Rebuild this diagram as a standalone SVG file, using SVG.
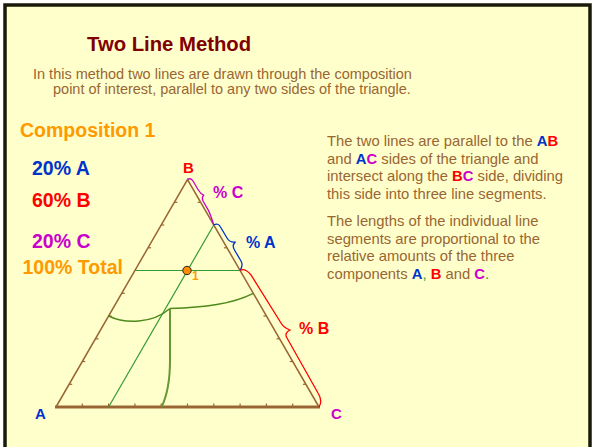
<svg xmlns="http://www.w3.org/2000/svg" width="592" height="447" viewBox="0 0 592 447">
<defs>
<style>
text{font-family:"Liberation Sans",Arial,sans-serif}
.b{font-weight:bold}
.body{font-size:14.5px;fill:#996633}
.side{font-size:14.8px;fill:#996633}
.big{font-size:19.5px;font-weight:bold}
.lab{font-size:16px;font-weight:bold}
.blue{fill:#0033cc}
.red{fill:#ff0000}
.mag{fill:#cc00cc}
.org{fill:#ff9900}
.grn{fill:#339933}
.tri{fill:none;stroke:#996633;stroke-width:1.5}
.tick{stroke:#996633;stroke-width:1.2}
.gline{fill:none;stroke:#339933;stroke-width:1.2}
.dline{fill:none;stroke:#4d8a1a;stroke-width:1.5}
.brace{fill:none;stroke-width:1.3}
</style>
</defs>
<rect x="0" y="0" width="592" height="447" fill="#ffffff"/>
<rect x="5" y="5" width="585" height="460" fill="#ffffcc" stroke="#1a1a0a" stroke-width="3.5"/>

<g id="title">
<text x="87" y="51" class="b" font-size="20.3" fill="#800000">Two Line Method</text>
<text x="33" y="79" class="body">In this method two lines are drawn through the composition</text>
<text x="53" y="94" class="body">point of interest, parallel to any two sides of the triangle.</text>
</g>

<g id="composition">
<text x="20" y="137" class="big org">Composition 1</text>
<text x="32" y="175" class="big blue">20% A</text>
<text x="32" y="207" class="big red">60% B</text>
<text x="32" y="247.5" class="big mag">20% C</text>
<text x="22.5" y="274" class="big org">100% Total</text>
</g>

<g id="explanation" class="side">
<text x="327" y="146">The two lines are parallel to the <tspan class="b blue">A</tspan><tspan class="b red">B</tspan></text>
<text x="327" y="163.5">and <tspan class="b blue">A</tspan><tspan class="b mag">C</tspan> sides of the triangle and</text>
<text x="327" y="181">intersect along the <tspan class="b red">B</tspan><tspan class="b mag">C</tspan> side, dividing</text>
<text x="327" y="198.5">this side into three line segments.</text>
<text x="327" y="226">The lengths of the individual line</text>
<text x="327" y="243.5">segments are proportional to the</text>
<text x="327" y="261">relative amounts of the three</text>
<text x="327" y="278.5">components <tspan class="b blue">A</tspan><tspan class="grn">,</tspan> <tspan class="b red">B</tspan> and <tspan class="b mag">C</tspan><tspan class="grn">.</tspan></text>
</g>

<g id="triangle">
<path class="tri" d="M56,407 L187.5,179.5 L319,407"/>
<line x1="55" y1="407" x2="320" y2="407" stroke="#996633" stroke-width="2.8"/>
<g class="tick">
<line x1="82.3" y1="407" x2="82.3" y2="403.5"/>
<line x1="108.6" y1="407" x2="108.6" y2="403.5"/>
<line x1="134.9" y1="407" x2="134.9" y2="403.5"/>
<line x1="161.2" y1="407" x2="161.2" y2="403.5"/>
<line x1="187.5" y1="407" x2="187.5" y2="403.5"/>
<line x1="213.8" y1="407" x2="213.8" y2="403.5"/>
<line x1="240.1" y1="407" x2="240.1" y2="403.5"/>
<line x1="266.4" y1="407" x2="266.4" y2="403.5"/>
<line x1="292.7" y1="407" x2="292.7" y2="403.5"/>
<line x1="69.2" y1="384.3" x2="72.2" y2="384.3"/>
<line x1="82.3" y1="361.5" x2="85.3" y2="361.5"/>
<line x1="95.5" y1="338.8" x2="98.5" y2="338.8"/>
<line x1="108.6" y1="316" x2="111.6" y2="316"/>
<line x1="121.8" y1="293.3" x2="124.8" y2="293.3"/>
<line x1="148.1" y1="247.8" x2="151.1" y2="247.8"/>
<line x1="161.2" y1="225" x2="164.2" y2="225"/>
<line x1="174.4" y1="202.3" x2="177.4" y2="202.3"/>
<line x1="305.9" y1="384.3" x2="302.9" y2="384.3"/>
<line x1="292.7" y1="361.5" x2="289.7" y2="361.5"/>
<line x1="279.6" y1="338.8" x2="276.6" y2="338.8"/>
<line x1="266.4" y1="316" x2="263.4" y2="316"/>
<line x1="226.9" y1="247.8" x2="223.9" y2="247.8"/>
<line x1="200.6" y1="202.3" x2="197.6" y2="202.3"/>
</g>
</g>

<g id="connectors">
<line class="gline" x1="135" y1="270.5" x2="240" y2="270.5"/>
<line class="gline" x1="108.6" y1="407" x2="213.8" y2="225"/>
<path class="dline" d="M108.6,316 C125,324 152,324 170,308.5"/>
<path class="dline" d="M170,308.5 C205,307.5 232,304 253.3,293.3"/>
<path fill="none" stroke="#669933" stroke-width="2" d="M170,308.5 L170,360 C170,385 166,398 161.5,407"/>
<path class="brace" stroke="#cc00cc" d="M187.5,179.5 Q191,177.5 193,181 L198,189.5 Q200.6,194 203.7,195.2 Q201.3,198 203,201 L208,209.6 Q210,213 213.8,225"/>
<path class="brace" stroke="#0033cc" d="M213.8,225 Q218,222.5 220.5,227 L227,238 Q230,243 235.5,242 Q231.5,245 234.5,250 L241,261 Q243.5,265.5 240,270.5"/>
<path class="brace" stroke="#ff0000" d="M240,270.5 Q245,267.5 251,275 L281,323 Q284,328 290,330 Q284,333 287,338 L318,393 Q323,401 319,407"/>
</g>

<g id="point">
<circle cx="187" cy="270.5" r="4.2" fill="#ff8c00" stroke="#222" stroke-width="1"/>
<text x="192" y="279.5" class="b org" font-size="12">1</text>
</g>

<g id="labels">
<text x="183" y="173" class="b red" font-size="15">B</text>
<text x="213" y="198" class="lab mag">% C</text>
<text x="246" y="248" class="lab blue">% A</text>
<text x="299" y="334" class="lab red">% B</text>
<text x="35" y="419" class="b blue" font-size="15">A</text>
<text x="331" y="419" class="b mag" font-size="15">C</text>
</g>
</svg>
